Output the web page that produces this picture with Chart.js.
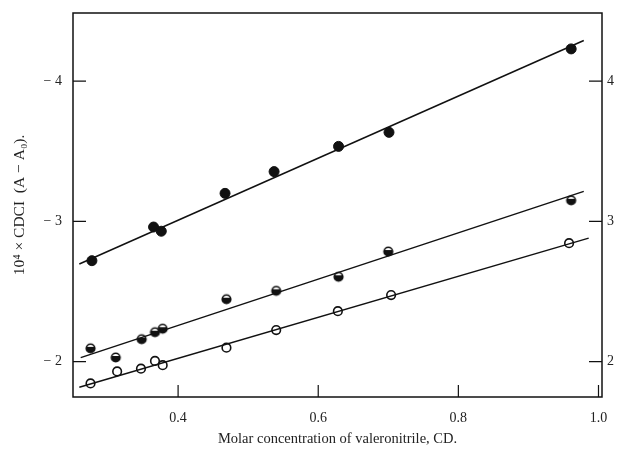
<!DOCTYPE html>
<html><head><meta charset="utf-8">
<script src="https://cdn.jsdelivr.net/npm/chart.js@4"></script>
<style>html,body{margin:0;padding:0;background:#fff}#w{width:619px;height:453px}</style>
</head><body><div id="w"><canvas id="c"></canvas></div>
<script>
// Data
const filledX = [0.277, 0.365, 0.376, 0.467, 0.537, 0.629, 0.701, 0.961];
const filledY = [-2.72, -2.96, -2.93, -3.20, -3.355, -3.535, -3.635, -4.23];
const halfX = [0.275, 0.311, 0.348, 0.367, 0.378, 0.469, 0.540, 0.629, 0.700, 0.961];
const halfY = [-2.095, -2.03, -2.16, -2.21, -2.235, -2.445, -2.505, -2.605, -2.785, -3.15];
const openX = [0.275, 0.313, 0.347, 0.367, 0.378, 0.469, 0.540, 0.628, 0.704, 0.958];
const openY = [-1.845, -1.93, -1.95, -2.005, -1.975, -2.10, -2.225, -2.36, -2.475, -2.845];
const fitTopX = [0.259, 0.979];
const fitTopY = [-2.696, -4.29];
const fitMidX = [0.261, 0.979];
const fitMidY = [-2.029, -3.214];
const fitLowX = [0.259, 0.986];
const fitLowY = [-1.817, -2.881];
const xTicks = [0.4, 0.6, 0.8, 1.0];
const yTicks = [-4, -3, -2];

const pts = (xs, ys) => xs.map((x, i) => ({x, y: ys[i]}));

// half-filled marker
function halfMarker(r) {
  const c = document.createElement('canvas');
  const s = Math.ceil(r * 2 + 4);
  c.width = s; c.height = s;
  const g = c.getContext('2d');
  const m = s / 2;
  g.beginPath(); g.arc(m, m, r, 0, Math.PI * 2); g.fillStyle = '#fff'; g.fill();
  g.beginPath(); g.arc(m, m, r, -0.35, Math.PI + 0.35); g.closePath(); g.fillStyle = '#111'; g.fill();
  g.beginPath(); g.arc(m, m, r, 0, Math.PI * 2); g.lineWidth = 1.6; g.strokeStyle = '#111'; g.stroke();
  return c;
}

const FONT = {family: '"Liberation Serif", "DejaVu Serif", serif', size: 14};
const noPad = s => { s.paddingTop = 0; s.paddingBottom = 0; s.paddingLeft = 0; s.paddingRight = 0; };

const frame = {
  id: 'frame',
  afterDraw(chart) {
    const {ctx, chartArea: a, scales} = chart;
    ctx.save();
    ctx.strokeStyle = '#111';
    ctx.lineWidth = 1.5;
    ctx.strokeRect(a.left, a.top, a.right - a.left, a.bottom - a.top);
    ctx.lineWidth = 1.2;
    ctx.beginPath();
    yTicks.forEach(v => {
      const y = scales.y.getPixelForValue(v);
      ctx.moveTo(a.left, y); ctx.lineTo(a.left + 13, y);
      ctx.moveTo(a.right, y); ctx.lineTo(a.right - 13, y);
    });
    xTicks.forEach(v => {
      const x = scales.x.getPixelForValue(v);
      if (x < a.right - 2) { ctx.moveTo(x, a.bottom); ctx.lineTo(x, a.bottom - 12); }
    });
    ctx.stroke();
    ctx.restore();
  }
};

new Chart(document.getElementById('c'), {
  type: 'scatter',
  data: {
    datasets: [
      {data: pts(fitTopX, fitTopY), showLine: true, borderColor: '#111', borderWidth: 1.5, pointRadius: 0},
      {data: pts(fitMidX, fitMidY), showLine: true, borderColor: '#111', borderWidth: 1.5, pointRadius: 0},
      {data: pts(fitLowX, fitLowY), showLine: true, borderColor: '#111', borderWidth: 1.5, pointRadius: 0},
      {data: pts(filledX, filledY), pointRadius: 5, pointBackgroundColor: '#111', pointBorderColor: '#111', borderWidth: 1},
      {data: pts(halfX, halfY), pointStyle: halfMarker(4.3), pointRadius: 4.3},
      {data: pts(openX, openY), pointRadius: 4.3, pointBackgroundColor: '#fff', pointBorderColor: '#111', pointBorderWidth: 1.6}
    ]
  },
  options: {
    responsive: true,
    maintainAspectRatio: false,
    animation: false,
    layout: {padding: {top: 13, left: 0, right: 0, bottom: 0}},
    plugins: {legend: {display: false}, tooltip: {enabled: false}},
    scales: {
      x: {
        type: 'linear', min: 0.25, max: 1.005,
        grid: {display: false, drawTicks: false},
        border: {display: false},
        afterBuildTicks: s => { s.ticks = xTicks.map(v => ({value: v})); },
        afterFit: s => { s.height = 56; noPad(s); },
        ticks: {padding: 13, color: '#222', font: FONT, callback: v => Number(v).toFixed(1), maxRotation: 0},
        title: {display: true, text: 'Molar concentration of valeronitrile, CD.', color: '#222',
                font: {family: FONT.family, size: 14.5}, padding: {top: 0, bottom: 5}}
      },
      y: {
        type: 'linear', reverse: true, min: -4.486, max: -1.748, position: 'left',
        grid: {display: false, drawTicks: false},
        border: {display: false},
        afterBuildTicks: s => { s.ticks = yTicks.map(v => ({value: v})); },
        afterFit: s => { s.width = 73; noPad(s); },
        ticks: {padding: 11, color: '#222', font: FONT, callback: v => '\u2212 ' + Math.abs(v)},
        title: {display: true, text: '10\u2074 \u00d7 CDCI  (A \u2212 A\u2080).', color: '#222',
                font: {family: FONT.family, size: 15.5}, padding: {top: 11, bottom: 0}}
      },
      y2: {
        type: 'linear', reverse: true, min: -4.486, max: -1.748, position: 'right',
        grid: {display: false, drawTicks: false},
        border: {display: false},
        afterBuildTicks: s => { s.ticks = yTicks.map(v => ({value: v})); },
        afterFit: s => { s.width = 17; noPad(s); },
        ticks: {padding: 5, color: '#222', font: FONT, callback: v => String(Math.abs(v))}
      }
    }
  },
  plugins: [frame]
});
</script>
</body></html>
